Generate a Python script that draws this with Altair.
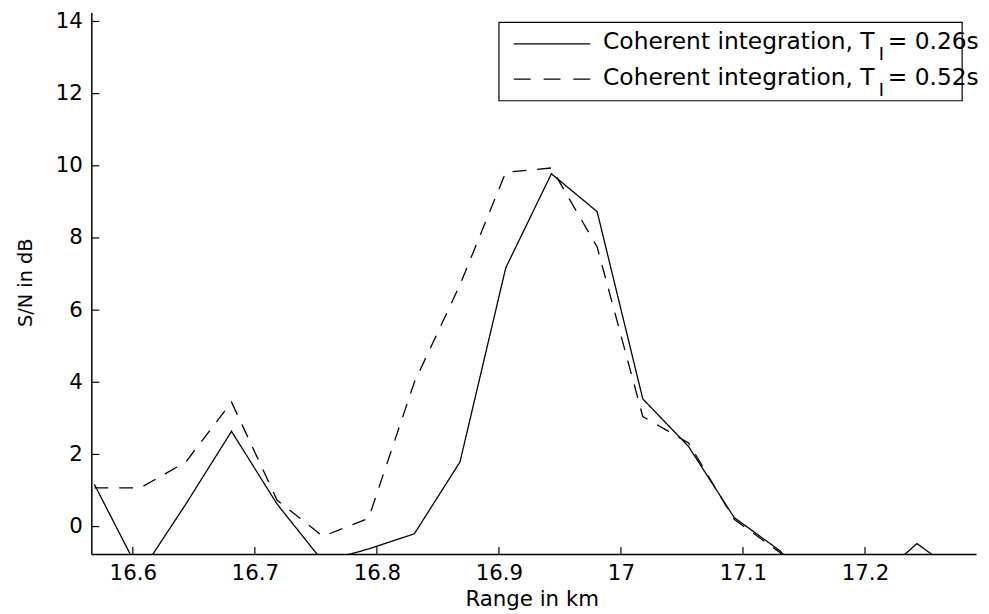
import altair as alt
import pandas as pd

# ---- data ----
range_km = [16.5685, 16.6060, 16.6434, 16.6809, 16.7183, 16.7558, 16.7932, 16.8307,
            16.8681, 16.9056, 16.9430, 16.9805, 17.0179, 17.0554, 17.0928, 17.1303,
            17.1677, 17.2052, 17.2426, 17.2801]
snr_026 = [1.17, -1.3, 0.62, 2.64, 0.62, -0.97, -0.62, -0.2, 1.79, 7.17, 9.78, 8.73,
           3.54, 2.22, 0.25, -0.67, -2.0, -1.6, -0.47, -1.4]
snr_052 = [1.07, 1.07, 1.79, 3.45, 0.73, -0.27, 0.23, 4.0, 6.7, 9.82, 9.94, 7.75,
           3.05, 2.32, 0.2, -0.72, -2.2, -2.5, -2.0, -2.3]
series_names = ["0.26", "0.52"]
legend_main = "Coherent integration, T"
legend_sub = "I"
legend_tail = ["= 0.26s", "= 0.52s"]
x_ticks = [16.6, 16.7, 16.8, 16.9, 17.0, 17.1, 17.2]
y_ticks = [0, 2, 4, 6, 8, 10, 12, 14]
x_domain = [16.566, 17.291]
y_domain = [-0.76, 14.25]

df = pd.DataFrame({
    "range": range_km * 2,
    "snr": snr_026 + snr_052,
    "series": [series_names[0]] * len(range_km) + [series_names[1]] * len(range_km),
})

FONT = "DejaVu Sans"
W, H = 892, 546
TOP = 2  # plot top offset inside the svg

x_scale = alt.Scale(domain=x_domain, nice=False, zero=False)
y_scale = alt.Scale(domain=y_domain, nice=False, zero=False)

x_axis = alt.Axis(values=x_ticks, format=".1~f", title="Range in km",
                  titleX=444, titleY=52, titleBaseline="alphabetic", titleAlign="center",
                  titleFontSize=21.5, labelFontSize=21.5, labelBaseline="alphabetic",
                  labelPadding=26, labelFlush=False, labelOverlap=False)
y_axis = alt.Axis(values=y_ticks, format="d", title="S/N in dB",
                  titleX=-60, titleY=272, titleBaseline="alphabetic", titleAlign="center",
                  titleAngle=270, titleFontSize=19.5, labelFontSize=21.5, labelPadding=9,
                  labelOverlap=False)

lines = alt.Chart(df).mark_line(clip=True, strokeWidth=1.3, color="black").encode(
    x=alt.X("range:Q", scale=x_scale, axis=x_axis),
    y=alt.Y("snr:Q", scale=y_scale, axis=y_axis),
    strokeDash=alt.StrokeDash("series:N",
                              scale=alt.Scale(domain=series_names, range=[[1, 0], [14, 11]]),
                              legend=None),
    detail="series:N",
    order="range:Q",
)

xticks = alt.Chart(pd.DataFrame({"range": x_ticks})).mark_rule(color="black", strokeWidth=1.2).encode(
    x=alt.X("range:Q", scale=x_scale, axis=x_axis),
    y=alt.value(H), y2=alt.value(H - 7),
)
yticks = alt.Chart(pd.DataFrame({"snr": y_ticks})).mark_rule(color="black", strokeWidth=1.2).encode(
    y=alt.Y("snr:Q", scale=y_scale, axis=y_axis),
    x=alt.value(0), x2=alt.value(8),
)

one = pd.DataFrame({"a": [0]})
box = alt.Chart(one).mark_rect(fill="white", stroke="black", strokeWidth=1.2).encode(
    x=alt.value(411), x2=alt.value(878), y=alt.value(12 - TOP), y2=alt.value(91 - TOP))
leg_solid = alt.Chart(one).mark_rule(color="black", strokeWidth=1.3).encode(
    x=alt.value(426), x2=alt.value(503), y=alt.value(33.7 - TOP))
leg_dash = alt.Chart(one).mark_rule(color="black", strokeWidth=1.3, strokeDash=[17, 13]).encode(
    x=alt.value(426), x2=alt.value(503), y=alt.value(69.3 - TOP))

def txt(s, x, y, size):
    return alt.Chart(one).mark_text(align="left", baseline="alphabetic", font=FONT,
                                    fontSize=size, color="black").encode(
        x=alt.value(x), y=alt.value(y - TOP), text=alt.value(s))

texts = [
    txt(legend_main, 516, 38.7, 23.5), txt(legend_sub, 794, 50, 18), txt(legend_tail[0], 803, 38.7, 23.5),
    txt(legend_main, 516, 74.7, 23.5), txt(legend_sub, 794, 86, 18), txt(legend_tail[1], 803, 74.7, 23.5),
]

chart = alt.layer(lines, xticks, yticks, box, leg_solid, leg_dash, *texts).properties(
    width=W, height=H,
    autosize=alt.AutoSizeParams(type="none"),
    padding={"left": 84, "top": TOP, "right": 5, "bottom": 58},
).configure_view(stroke=None).configure_axis(
    grid=False, ticks=False, tickSize=0, domainColor="black", domainWidth=1.5,
    labelColor="black", titleColor="black", labelFont=FONT, titleFont=FONT,
    titleFontWeight="normal",
)

chart.save("out.html", embed_options={"renderer": "svg", "actions": False})
